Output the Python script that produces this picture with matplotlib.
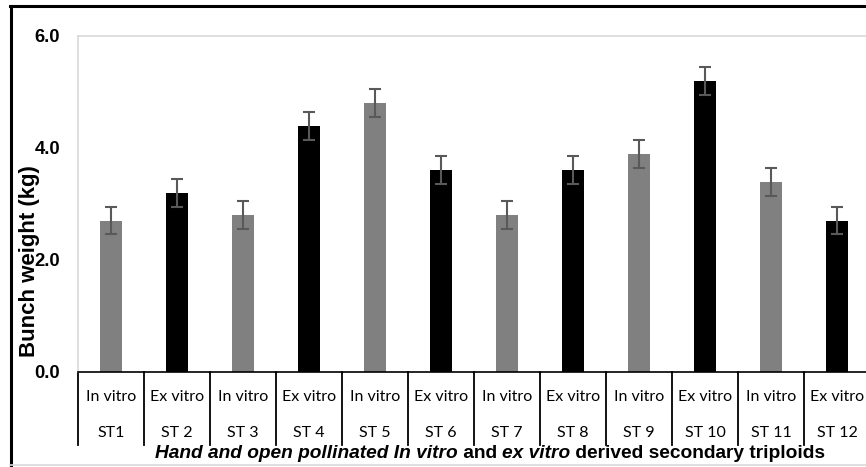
import numpy as np
import matplotlib
matplotlib.use('Agg')
from matplotlib import pyplot as plt
from matplotlib.lines import Line2D

### Data
st_labels = ['ST1', 'ST 2', 'ST 3', 'ST 4', 'ST 5', 'ST 6',
             'ST 7', 'ST 8', 'ST 9', 'ST 10', 'ST 11', 'ST 12']
origin = ['In vitro', 'Ex vitro', 'In vitro', 'Ex vitro', 'In vitro', 'Ex vitro',
          'In vitro', 'Ex vitro', 'In vitro', 'Ex vitro', 'In vitro', 'Ex vitro']
bunch_weight = [2.7, 3.2, 2.8, 4.4, 4.8, 3.6, 2.8, 3.6, 3.9, 5.2, 3.4, 2.7]
bunch_err = [0.24, 0.25, 0.25, 0.25, 0.25, 0.25, 0.25, 0.25, 0.25, 0.25, 0.25, 0.24]
y_ticks = [0.0, 2.0, 4.0, 6.0]

origin_colors = {'In vitro': '#808080', 'Ex vitro': '#000000'}

# ----------------------------------------------------------------------------

W, H = 866, 467
fig = plt.figure(figsize=(W/100, H/100), dpi=100)

# plot area in pixels: left 78, top 36, bottom 372, 66 px per category
ax = fig.add_axes([78/W, (H-372)/H, 792/W, 336/H])

x = np.arange(len(bunch_weight))
colors = [origin_colors[o] for o in origin]
ax.bar(x, bunch_weight, width=0.32, color=colors, zorder=2)
ax.errorbar(x, bunch_weight, yerr=bunch_err, fmt='none', ecolor='#595959',
            elinewidth=1.5, capsize=4, capthick=1.5, zorder=3)

ax.set_xlim(-0.5, len(x)-0.5)
ax.set_ylim(0, 6)
ax.set_yticks(y_ticks)
ax.set_yticklabels(['%.1f' % t for t in y_ticks], fontfamily='Liberation Sans',
                   fontweight='bold', fontsize=13.3)
ax.tick_params(axis='y', length=0, pad=13)
ax.set_xticks([])

for side in ['left', 'top']:
    ax.spines[side].set_color('#d9d9d9')
    ax.spines[side].set_linewidth(1.2)
ax.spines['right'].set_visible(False)
ax.spines['bottom'].set_color('black')
ax.spines['bottom'].set_linewidth(1.2)

# two level category axis
trans = ax.get_xaxis_transform()
for edge in np.arange(-0.5, len(x), 1.0):
    ax.plot([edge, edge], [0, -73/336], color='black', lw=1.3,
            transform=trans, clip_on=False)
for i in x:
    ax.text(i, -25/336, origin[i], transform=trans, ha='center', va='center',
            fontfamily='Lato', fontsize=11.5)
    ax.text(i, -61/336, st_labels[i], transform=trans, ha='center', va='center',
            fontfamily='Lato', fontsize=11.5)

# y label (it sits over the 2.0 tick label, as in the original)
fig.text(30/W, 1-261/H, 'Bunch weight (kg)', rotation=90, ha='center',
         va='center', fontfamily='Liberation Sans', fontweight='bold', fontsize=16)

# x title with mixed italic pieces
pieces = [('Hand and open pollinated In vitro', 'italic'), (' and ', 'normal'),
          ('ex vitro', 'italic'), (' derived secondary triploids', 'normal')]
renderer = fig.canvas.get_renderer()
texts = []
for s, style in pieces:
    t = fig.text(0, 1-453/H, s, ha='left', va='center', fontfamily='Liberation Sans',
                 fontweight='bold', fontstyle=style, fontsize=13.8)
    texts.append(t)
widths = [t.get_window_extent(renderer).width for t in texts]
x0 = 490 - sum(widths)/2.
for t, w in zip(texts, widths):
    t.set_x(x0/W)
    x0 += w

# chart frame
fig.add_artist(Line2D([10.5/W, 10.5/W], [1-6/H, 1-465/H], color='black', lw=2.2))
fig.add_artist(Line2D([10/W, 1], [1-6/H, 1-6/H], color='black', lw=2.2))
fig.add_artist(Line2D([10/W, 1], [1-465/H, 1-465/H], color='#d9d9d9', lw=1.2))

fig.savefig('out.png', dpi=100)
